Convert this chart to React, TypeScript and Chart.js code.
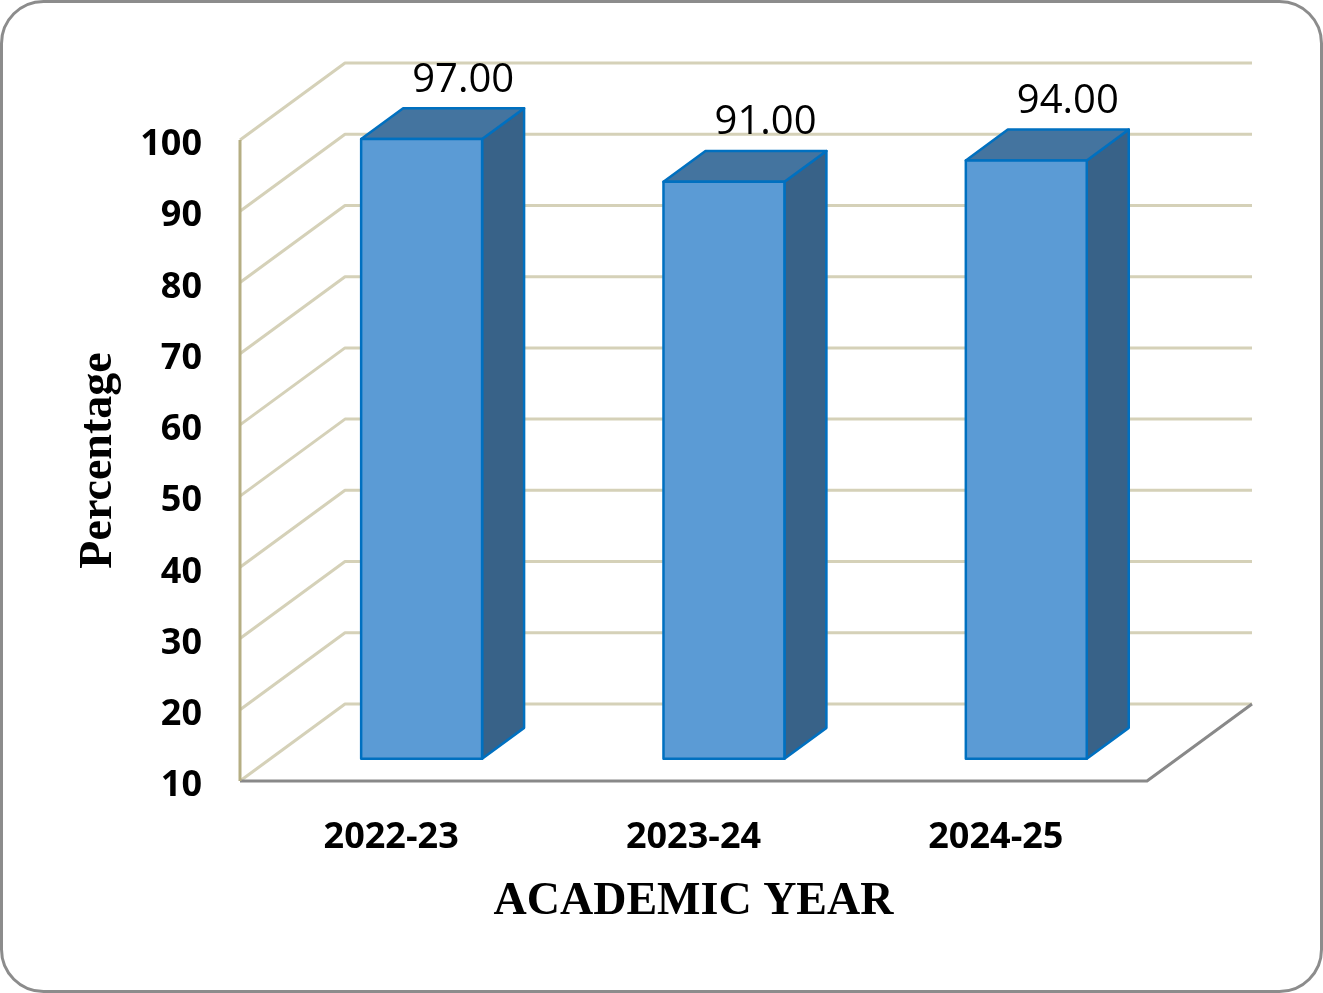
import { useEffect, useRef } from 'react';
import { Chart, registerables } from 'chart.js';

Chart.register(...registerables);

// chart data
const academicYears = ['2022-23', '2023-24', '2024-25'];
const percentages = [97, 91, 94];
const yTickValues = [10, 20, 30, 40, 50, 60, 70, 80, 90, 100];

// 3D look: how far the back wall sits from the front plane, and where the bars sit in depth
const DEPTH_X = 105;
const DEPTH_Y = -77;
const BAR_FRONT = 0.29;
const BAR_BACK = 0.69;

const poly = (ctx: CanvasRenderingContext2D, pts: number[][], fill: string) => {
    ctx.beginPath();
    ctx.moveTo(pts[0][0], pts[0][1]);
    for (let i = 1; i < pts.length; i++) ctx.lineTo(pts[i][0], pts[i][1]);
    ctx.closePath();
    ctx.fillStyle = fill;
    ctx.fill();
    ctx.stroke();
};

const frame3d = {
    id: 'frame3d',
    beforeDraw(chart: any) {
        const { ctx, width, height } = chart;
        ctx.save();
        ctx.fillStyle = '#ffffff';
        ctx.fillRect(0, 0, width, height);
        ctx.beginPath();
        ctx.roundRect(1.5, 1.5, width - 3, height - 3, 42);
        ctx.lineWidth = 3;
        ctx.strokeStyle = '#8c8c8c';
        ctx.stroke();
        ctx.restore();
    },
    beforeDatasetsDraw(chart: any) {
        const { ctx, chartArea: { left, right, top, bottom }, scales: { y } } = chart;
        ctx.save();
        ctx.lineWidth = 3;
        ctx.lineJoin = 'round';

        // left wall diagonals + back wall gridlines
        ctx.strokeStyle = '#d5d1b8';
        yTickValues.forEach((v) => {
            const py = y.getPixelForValue(v);
            ctx.beginPath();
            ctx.moveTo(left, py);
            ctx.lineTo(left + DEPTH_X, py + DEPTH_Y);
            ctx.lineTo(right + DEPTH_X, py + DEPTH_Y);
            ctx.stroke();
        });

        // floor edges
        ctx.strokeStyle = '#898989';
        ctx.beginPath();
        ctx.moveTo(left, bottom);
        ctx.lineTo(right, bottom);
        ctx.lineTo(right + DEPTH_X, bottom + DEPTH_Y);
        ctx.stroke();

        // left wall front edge
        ctx.strokeStyle = '#b5ae83';
        ctx.beginPath();
        ctx.moveTo(left, top);
        ctx.lineTo(left, bottom);
        ctx.stroke();
        ctx.restore();
    },
    afterDatasetsDraw(chart: any) {
        const { ctx, scales: { y: yScale } } = chart;
        const meta = chart.getDatasetMeta(0);
        const fx = DEPTH_X * BAR_FRONT;
        const fy = DEPTH_Y * BAR_FRONT;
        const dx = DEPTH_X * (BAR_BACK - BAR_FRONT);
        const dy = DEPTH_Y * (BAR_BACK - BAR_FRONT);
        const floor = yScale.getPixelForValue(yScale.min);

        ctx.save();
        ctx.lineWidth = 2.5;
        ctx.lineJoin = 'round';
        ctx.strokeStyle = '#0070c0';
        meta.data.forEach((bar: any, i: number) => {
            const { x, y, width } = bar.getProps(['x', 'y', 'width'], true);
            const l = x - width / 2 + fx;
            const r = x + width / 2 + fx;
            const t = y + fy;
            const b = floor + fy;

            poly(ctx, [[r, t], [r + dx, t + dy], [r + dx, b + dy], [r, b]], '#386288');
            poly(ctx, [[l, t], [l + dx, t + dy], [r + dx, t + dy], [r, t]], '#44749f');
            poly(ctx, [[l, t], [r, t], [r, b], [l, b]], '#5b9bd5');

            ctx.fillStyle = '#000000';
            ctx.font = '40px "Open Sans"';
            ctx.textAlign = 'center';
            ctx.textBaseline = 'middle';
            ctx.fillText(percentages[i].toFixed(2), x + 72, t + dy - 28);
        });
        ctx.restore();
    }
};

const App = () => {
    const chartRef = useRef<HTMLCanvasElement | null>(null);
    const chartInstanceRef = useRef<Chart | null>(null);

    useEffect(() => {
        if (!chartRef.current) return;

        if (chartInstanceRef.current) {
            chartInstanceRef.current.destroy();
        };

        chartInstanceRef.current = new Chart(chartRef.current, {
            type: 'bar',
            data: {
                labels: academicYears,
                datasets: [{
                    label: 'Percentage',
                    data: percentages,
                    backgroundColor: 'rgba(0,0,0,0)',
                    borderWidth: 0,
                    barPercentage: 0.4,
                    categoryPercentage: 1,
                }]
            },
            options: {
                responsive: true,
                maintainAspectRatio: false,
                animation: false,
                layout: {
                    padding: { left: 0, top: 140, right: 176, bottom: 0 }
                },
                plugins: {
                    legend: { display: false },
                    tooltip: { enabled: false },
                },
                scales: {
                    x: {
                        grid: { display: false, drawTicks: false },
                        border: { display: false },
                        ticks: {
                            color: '#000000',
                            padding: 35,
                            font: { family: '"Open Sans"', size: 36, weight: 'bold' },
                        },
                        title: {
                            display: true,
                            text: 'ACADEMIC YEAR',
                            color: '#000000',
                            padding: { top: 0, bottom: 63 },
                            font: { family: '"Liberation Serif"', size: 46, weight: 'bold' },
                        },
                        afterFit: (scale: any) => { scale.height = 212; },
                    },
                    y: {
                        min: 10,
                        max: 100,
                        grid: { display: false, drawTicks: false },
                        border: { display: false },
                        afterBuildTicks: (scale: any) => {
                            scale.ticks = yTickValues.map((v) => ({ value: v }));
                        },
                        ticks: {
                            color: '#000000',
                            padding: 38,
                            labelOffset: 5,
                            font: { family: '"Open Sans"', size: 36, weight: 'bold' },
                        },
                        title: {
                            display: true,
                            text: 'Percentage',
                            color: '#000000',
                            padding: { top: 72, bottom: 0 },
                            font: { family: '"Liberation Serif"', size: 46, weight: 'bold' },
                        },
                        afterFit: (scale: any) => { scale.width = 240; },
                    }
                }
            },
            plugins: [frame3d]
        });

        return () => {
            if (chartInstanceRef.current) {
                chartInstanceRef.current.destroy();
                chartInstanceRef.current = null;
            }
        }
    }, []);

    return <div style={{ position: 'absolute', left: 0, top: 0, width: 1323, height: 993 }}>
        <canvas ref={chartRef}></canvas>
    </div>
};

export default App;
